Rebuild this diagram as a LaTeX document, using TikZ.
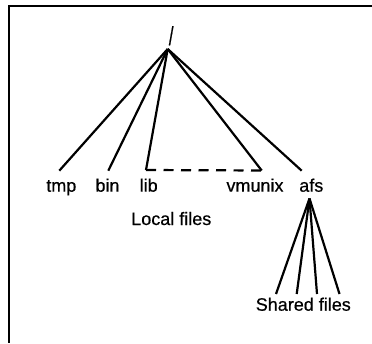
\documentclass[tikz,border=0pt]{standalone}
\usepackage{fontspec}
\setmainfont{Liberation Sans}
\newfontfamily\labelfont[FakeBold=0.5]{Liberation Sans}
\begin{document}
\begin{tikzpicture}[x=1pt,y=-1pt,
  label/.style={font=\labelfont\fontsize{18}{21}\selectfont, inner sep=0pt, anchor=base},
  branch/.style={line width=2.2pt},
  frame/.style={line width=2pt}]
\useasboundingbox (0,0) rectangle (372,343);

% open frame: top rule and left rule
\draw[frame] (372,5.5) -- (9,5.5) -- (9,343);

% root directory
\node[inner sep=0pt, anchor=base, font=\labelfont\fontsize{26}{30}\selectfont]
  (root) at (171.2,45) {\scalebox{0.65}[1]{/}};
\coordinate (rj) at (167.7,49);

% local directories
\node[label] (tmp)    at (61.3,191.7)  {tmp};
\node[label] (bin)    at (107.5,191.7) {bin};
\node[label] (lib)    at (148.7,191.7) {lib};
\node[label] (vmunix) at (255,191.7)   {vmunix};
\node[label] (afs)    at (311.3,191.7) {afs};
\node[label] (local)  at (171.3,225)   {Local files};
\node[label] (shared) at (303.3,310.7) {Shared files};

% branch ends above the labels
\coordinate (tmpE) at (59.3,170.7);
\coordinate (binE) at (108.3,170.7);
\coordinate (libE) at (146,170);
\coordinate (vmuE) at (261.7,170.5);
\coordinate (afsE) at (301.7,170.7);

\draw[branch] (rj) -- (tmpE);
\draw[branch] (rj) -- (binE);
\draw[branch] (rj) -- (libE);
\draw[branch] (rj) -- (vmuE);
\draw[branch] (rj) -- (afsE);
\draw[branch, dash pattern=on 10pt off 7.5pt] (libE) -- (vmuE);

% shared subtree under afs
\coordinate (aj) at (309.5,198.5);
\coordinate (s1) at (276,294);
\coordinate (s2) at (296.7,294);
\coordinate (s3) at (317,294);
\coordinate (s4) at (339.5,294);
\foreach \e in {s1,s2,s3,s4}
  \draw[branch] (aj) -- (\e);
\end{tikzpicture}
\end{document}
